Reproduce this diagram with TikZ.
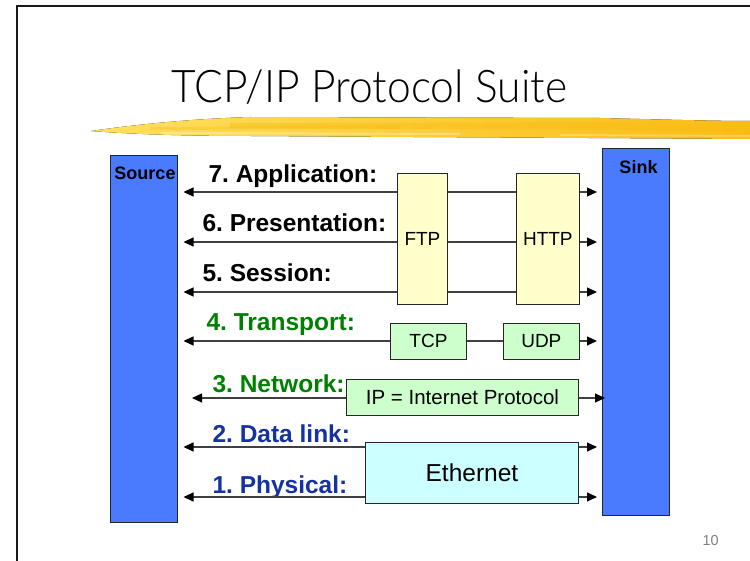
\documentclass[tikz,border=0pt]{standalone}
\usepackage{fontspec}
\setmainfont{Liberation Sans}
\newfontfamily\titlefont[FakeStretch=0.945]{Lato Light}
\usetikzlibrary{arrows.meta, positioning, calc}
\definecolor{hostblue}{RGB}{74,123,255}
\definecolor{appyellow}{RGB}{255,255,204}
\definecolor{netgreen}{RGB}{204,255,204}
\definecolor{linkcyan}{RGB}{204,255,255}
\definecolor{labelgreen}{RGB}{0,128,0}
\definecolor{labelblue}{RGB}{20,50,160}
\definecolor{brushlight}{RGB}{255,224,95}
\definecolor{brushdark}{RGB}{249,188,20}
\frenchspacing

\tikzset{
  host/.style={draw=black!85, line width=1pt, fill=hostblue, minimum width=67pt, minimum height=367pt, inner sep=0pt, anchor=north west},
  proto/.style={draw=black!85, line width=0.9pt, inner sep=0pt, font=\fontsize{19}{19}\selectfont},
  layer/.style={anchor=base west, font=\bfseries\fontsize{24.5}{24.5}\selectfont},
  wire/.style={draw=black!75, line width=1.2pt},
  sendwire/.style={wire, -{Triangle[length=10pt,width=9pt,color=black]}},
}

\begin{document}
\begin{tikzpicture}[x=1pt, y=-1pt]
    \useasboundingbox (0,0) rectangle (750,561);

    % slide frame
    \draw[line width=2.5pt, black!90] (17,561) -- (17,6) -- (750,6);

    % brush stroke under the title
    \fill[left color=brushlight, right color=brushdark] (91,131) .. controls (140,124) and (190,119) .. (250,117)
      -- (600,118) .. controls (680,120) and (720,121) .. (750,121) -- (750,139)
      .. controls (600,138) and (400,137) .. (250,136) .. controls (180,136) and (130,134) .. (91,131) -- cycle;
    \fill[brushdark, opacity=0.45] (230,123) -- (620,122) -- (750,126) -- (750,132) -- (620,130) -- (230,128) -- cycle;
    \fill[brushdark, opacity=0.35] (150,127) -- (400,125) -- (400,129) -- (150,130) -- cycle;
    \fill[white, opacity=0.3] (160,132) -- (460,133) -- (460,135) -- (160,134) -- cycle;
    \fill[white, opacity=0.25] (560,134) -- (750,135) -- (750,137) -- (560,136) -- cycle;

    % title
    \node[font=\titlefont\fontsize{45}{45}\selectfont, anchor=base west] (title) at (168,103) {TCP/IP Protocol Suite};

    % end hosts
    \node[host] (src) at (110,155) {};
    \node[host] (snk) at (602,148) {};
    \node[font=\bfseries\fontsize{18}{18}\selectfont, anchor=base] (srclabel) at ($(src.north)+(1,25)$) {Source};
    \node[font=\bfseries\fontsize{18}{18}\selectfont, anchor=base] (snklabel) at ($(snk.north)+(2.5,26)$) {Sink};

    % protocol boxes
    \node[proto, fill=appyellow, minimum width=50pt, minimum height=131pt, anchor=north west] (ftp) at (397,173) {FTP};
    \node[proto, fill=appyellow, minimum width=63pt, minimum height=131pt, right=68pt of ftp] (http) {HTTP};
    \node[proto, fill=netgreen, minimum width=76pt, minimum height=36pt, anchor=north west] (tcp) at (390,323) {TCP};
    \node[proto, fill=netgreen, minimum width=76pt, minimum height=36pt, right=36pt of tcp] (udp) {UDP};
    \node[proto, fill=netgreen, minimum width=232pt, minimum height=36pt, anchor=north west, font=\fontsize{20.5}{20.5}\selectfont] (ip) at (346,379) {IP = Internet Protocol};
    \node[proto, fill=linkcyan, minimum width=213pt, minimum height=61pt, anchor=north west, font=\fontsize{24.5}{24.5}\selectfont] (eth) at (365,442) {Ethernet};

    % layer names
    \node[layer] (app) at (205,183) {7. Application:};
    \node[layer] (pres) at (199,232) {6. Presentation:};
    \node[layer] (sess) at (199,282) {5. Session:};
    \node[layer, text=labelgreen] (trans) at (203,331) {4. Transport:};
    \node[layer, text=labelgreen] (net) at (209,392) {3. Network:};
    \node[layer, text=labelblue] (link) at (209,442) {2. Data link:};
    \node[layer, text=labelblue] (phys) at (209,493) {1. Physical:};

    % rows of the wires
    \coordinate (row7) at (0,192);
    \coordinate (row6) at (0,242);
    \coordinate (row5) at (0,292);
    \coordinate (row4) at (0,341);
    \coordinate (row3) at (0,398);
    \coordinate (row2) at (0,447);
    \coordinate (row1) at (0,497);

    % upper layers through FTP and HTTP
    \foreach \r in {5,6,7} {
      \draw[sendwire] (ftp.west |- row\r) -- ([xshift=5.5pt]src.east |- row\r);
      \draw[wire] (ftp.east |- row\r) -- (http.west |- row\r);
      \draw[sendwire] (http.east |- row\r) -- ([xshift=-5pt]snk.west |- row\r);
    }

    % transport and network
    \draw[sendwire] (tcp.west |- row4) -- ([xshift=5.5pt]src.east |- row4);
    \draw[wire] (tcp.east |- row4) -- (udp.west |- row4);
    \draw[sendwire] (udp.east |- row4) -- ([xshift=-5pt]snk.west |- row4);
    \draw[sendwire] (ip.west |- row3) -- ([xshift=14pt]src.east |- row3);
    \draw[sendwire] (ip.east |- row3) -- ([xshift=3pt]snk.west |- row3);

    % data link and physical through Ethernet
    \foreach \r in {1,2} {
      \draw[sendwire] (eth.west |- row\r) -- ([xshift=5.5pt]src.east |- row\r);
      \draw[sendwire] (eth.east |- row\r) -- ([xshift=-5pt]snk.west |- row\r);
    }

    % page number
    \node[text=black!50, font=\fontsize{14.5}{14.5}\selectfont, anchor=base west] (pagenum) at (699,545) {10};
\end{tikzpicture}
\end{document}
